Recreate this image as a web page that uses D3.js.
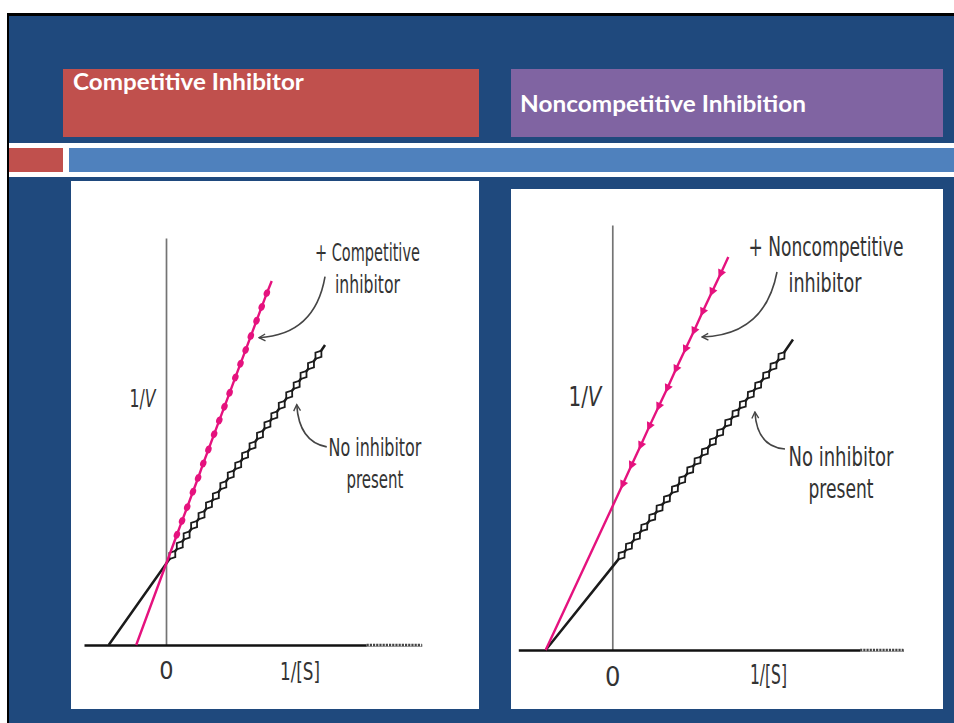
<!DOCTYPE html>
<html><head><meta charset="utf-8">
<script src="https://cdn.jsdelivr.net/npm/d3@7"></script>
<style>html,body{margin:0;padding:0;background:#fff;overflow:hidden}</style>
</head><body><svg id="c" width="954" height="723"></svg>
<script>
// ---------- DATA ----------
const titles = ["Competitive Inhibitor", "Noncompetitive Inhibition"];
const yLabel = ["1/", "V"];
const xLabel = "1/[S]";
const zeroTick = [0];

// Competitive panel: no inhibitor (open markers)
const compNoneX = [0.11,0.24,0.36,0.49,0.62,0.75,0.87,1.00,1.13,1.26,1.38,1.51,1.64,1.77,1.89,2.02,2.15,2.28,2.40,2.53,2.66];
const compNoneY = [1.11,1.23,1.35,1.48,1.60,1.73,1.84,1.97,2.10,2.22,2.34,2.46,2.59,2.72,2.83,2.96,3.09,3.21,3.33,3.45,3.58];
const compNoneExtX = [-1.0, 2.775];
const compNoneExtY = [0, 3.70];
// Competitive panel: + competitive inhibitor (filled beads)
const compInhX = [0.19,0.28,0.37,0.47,0.56,0.65,0.74,0.84,0.93,1.02,1.11,1.21,1.30,1.39,1.48,1.58,1.67,1.76];
const compInhY = [1.36,1.53,1.70,1.89,2.06,2.24,2.41,2.60,2.77,2.94,3.11,3.30,3.47,3.64,3.81,4.00,4.17,4.34];
const compInhExtX = [-0.52, 1.845];
const compInhExtY = [0, 4.49];

// Noncompetitive panel: no inhibitor (open markers)
const nonNoneX = [0.14,0.25,0.37,0.48,0.60,0.71,0.82,0.94,1.05,1.17,1.28,1.39,1.51,1.62,1.74,1.85,1.96,2.08,2.19,2.31,2.42,2.54];
const nonNoneY = [1.14,1.25,1.37,1.48,1.60,1.71,1.82,1.94,2.05,2.17,2.28,2.39,2.51,2.62,2.74,2.85,2.96,3.08,3.19,3.31,3.42,3.54];
const nonNoneExtX = [-1.0, 2.713];
const nonNoneExtY = [0, 3.74];
// Noncompetitive panel: + noncompetitive inhibitor (triangles)
const nonInhX = [0.16,0.29,0.43,0.56,0.70,0.83,0.96,1.10,1.23,1.36,1.50,1.63];
const nonInhY = [2.00,2.23,2.47,2.70,2.94,3.16,3.39,3.63,3.85,4.08,4.32,4.54];
const nonInhExtX = [-1.0, 1.742];
const nonInhExtY = [0, 4.735];

// Annotation texts
const compLabels = ["+ Competitive", "inhibitor", "No inhibitor", "present"];
const nonLabels = ["+ Noncompetitive", "inhibitor", "No inhibitor", "present"];

// ---------- STYLE ----------
const C = {bg:"#1F497D", red:"#C0504D", purple:"#8064A2", bar:"#4F81BD",
  mag:"#E5127E", blk:"#1b1b1b", axisY:"#747474", text:"#333333", arrow:"#454545"};
const narrow = "'Liberation Sans Narrow','DejaVu Sans Condensed','Arial Narrow','Roboto',sans-serif";

const svg = d3.select("#c");
const defs = svg.append("defs");
defs.append("marker").attr("id","ah").attr("viewBox","0 0 10 10")
  .attr("refX",8.5).attr("refY",5).attr("markerWidth",9).attr("markerHeight",9)
  .attr("markerUnits","userSpaceOnUse").attr("orient","auto")
  .append("path").attr("d","M1.5,1.2 L8.5,5 L1.5,8.8").attr("fill","none")
  .attr("stroke",C.arrow).attr("stroke-width",1.5);

// fit a text horizontally to a target width by scaling, keeping left edge at x
function fitText(sel, x, y, w){
  sel.attr("x",0).attr("y",0);
  const n = sel.node().getComputedTextLength();
  sel.attr("transform",`translate(${x},${y}) scale(${w/n},1)`);
  return sel;
}

// ---------- SLIDE BACKGROUND ----------
svg.append("rect").attr("width",954).attr("height",723).attr("fill","#fff");
svg.append("rect").attr("x",7).attr("y",13).attr("width",947).attr("height",710).attr("fill","#000");
svg.append("rect").attr("x",9).attr("y",16).attr("width",945).attr("height",707).attr("fill",C.bg);

// title boxes
svg.append("rect").attr("x",63).attr("y",69).attr("width",416).attr("height",68).attr("fill",C.red);
svg.append("rect").attr("x",511).attr("y",69).attr("width",432).attr("height",68).attr("fill",C.purple);
fitText(svg.append("text").text(titles[0])
  .attr("font-family","Lato, 'Open Sans', sans-serif").attr("font-weight","bold").attr("font-size",22)
  .attr("fill","#fff"), 73, 90, 231);
fitText(svg.append("text").text(titles[1])
  .attr("font-family","Lato, 'Open Sans', sans-serif").attr("font-weight","bold").attr("font-size",22)
  .attr("fill","#fff"), 520, 111.5, 286);

// divider stripes
svg.append("rect").attr("x",9).attr("y",143).attr("width",945).attr("height",34).attr("fill","#fff");
svg.append("rect").attr("x",9).attr("y",148).attr("width",54).attr("height",24).attr("fill",C.red);
svg.append("rect").attr("x",69).attr("y",148).attr("width",885).attr("height",24).attr("fill",C.bar);

// white chart panels
svg.append("rect").attr("x",71).attr("y",181).attr("width",408).attr("height",528).attr("fill","#fff");
svg.append("rect").attr("x",511).attr("y",189).attr("width",432).attr("height",520).attr("fill","#fff");

// ---------- CHART ----------
function drawChart(o){
  const g = svg.append("g");
  const x = o.x, y = o.y;
  // y axis
  g.append("g").attr("transform",`translate(${x(0)},0)`)
    .call(d3.axisLeft(y).tickValues([]).tickSize(0).tickSizeOuter(0))
    .select(".domain").attr("stroke",C.axisY).attr("stroke-width",1.7);
  // x axis
  const gx = g.append("g").attr("transform",`translate(0,${y(0)})`)
    .call(d3.axisBottom(x).tickValues(zeroTick).tickSize(0).tickSizeOuter(0).tickFormat(d3.format("d")));
  gx.select(".domain").attr("stroke","#111").attr("stroke-width",2.7);
  gx.selectAll("text").attr("y",o.zeroY).attr("dy",0).attr("font-size",o.fs)
    .attr("font-family",narrow).attr("fill",C.text)
    .attr("transform","scale(0.85,1)");
  gx.selectAll(".tick").each(function(d){
    d3.select(this).select("text").attr("transform",null).attr("textLength",null);
  });
  // lighter dotted tail of the x axis
  g.append("line").attr("x1",x(o.tail)).attr("x2",x.range()[1]).attr("y1",y(0)).attr("y2",y(0))
    .attr("stroke","#fff").attr("stroke-width",3.2);
  g.append("line").attr("x1",x(o.tail)).attr("x2",x.range()[1]).attr("y1",y(0)).attr("y2",y(0))
    .attr("stroke","#444").attr("stroke-width",2.4).attr("stroke-dasharray","2.2,1");

  const line = d3.line().x(d=>x(d[0])).y(d=>y(d[1]));
  o.series.forEach(s=>{
    const pts = [[s.ex[0],s.ey[0]]].concat(s.xs.map((v,i)=>[v,s.ys[i]])).concat([[s.ex[1],s.ey[1]]]);
    g.append("path").attr("d",line(pts)).attr("fill","none").attr("stroke",s.color).attr("stroke-width",s.lw);
    const ang = Math.atan2(y(s.ey[1])-y(s.ey[0]), x(s.ex[1])-x(s.ex[0]))*180/Math.PI;
    const mg = g.append("g");
    s.xs.forEach((v,i)=>{
      const t = `translate(${x(v)},${y(s.ys[i])}) rotate(${ang})`;
      if(s.marker==="diamond"){
        mg.append("path").attr("d","M-5,0L0,-3.7L5,0L0,3.7Z").attr("transform",t)
          .attr("fill","#fff").attr("stroke",s.color).attr("stroke-width",1.8);
      } else if(s.marker==="bead"){
        mg.append("ellipse").attr("rx",4.0).attr("ry",3.1).attr("transform",t).attr("fill",s.color);
      } else {
        mg.append("path").attr("d","M-5.5,0L3,-4.3L3,4.3Z").attr("transform",t).attr("fill",s.color);
      }
    });
  });
  // arrows (data-space anchor points)
  o.arrows.forEach(a=>{
    g.append("path").attr("d",`M${x(a[0])},${y(a[1])} Q${x(a[2])},${y(a[3])} ${x(a[4])},${y(a[5])}`)
      .attr("fill","none").attr("stroke",C.arrow).attr("stroke-width",1.6).attr("marker-end","url(#ah)");
  });
  // texts
  o.texts.forEach(t=>{
    fitText(g.append("text").text(t.s).attr("font-family",narrow)
      .attr("font-size",o.fs).attr("fill",C.text), t.x, t.y, t.w);
  });
  const yl = g.append("text").attr("font-family",narrow).attr("font-size",o.fs).attr("fill",C.text);
  yl.append("tspan").text(yLabel[0]);
  yl.append("tspan").text(yLabel[1]).attr("font-style","italic");
  fitText(yl, o.yl[0], o.yl[1], o.yl[2]);
  fitText(g.append("text").text(xLabel).attr("font-family",narrow)
    .attr("font-size",o.fs).attr("fill",C.text), o.xl[0], o.xl[1], o.xl[2]);
}

// Left: competitive
const xL = d3.scaleLinear().domain([-1.431, 4.462]).range([84, 421.7]);
const yL = d3.scaleLinear().domain([0, 5.02]).range([645, 238]);
drawChart({
  x:xL, y:yL, fs:25, zeroY:34, tail:3.5,
  series:[
    {xs:compNoneX, ys:compNoneY, ex:compNoneExtX, ey:compNoneExtY, color:C.blk, lw:2.5, marker:"diamond"},
    {xs:compInhX, ys:compInhY, ex:compInhExtX, ey:compInhExtY, color:C.mag, lw:2.4, marker:"bead"}
  ],
  arrows:[[2.775,4.543, 2.600,3.827, 1.623,3.790],[2.805,2.444, 2.321,2.506, 2.281,2.965]],
  texts:[
    {s:compLabels[0], x:315, y:261, w:105},
    {s:compLabels[1], x:335, y:293, w:65},
    {s:compLabels[2], x:328.5, y:455.5, w:93},
    {s:compLabels[3], x:346.5, y:487.5, w:57}
  ],
  yl:[129.5,407,26], xl:[280,680,40]
});

// Right: noncompetitive
const xR = d3.scaleLinear().domain([-1.411, 4.369]).range([518.3, 903.3]);
const yR = d3.scaleLinear().domain([0, 5.12]).range([650, 225]);
drawChart({
  x:xR, y:yR, fs:27, zeroY:35.5, tail:3.72,
  series:[
    {xs:nonNoneX, ys:nonNoneY, ex:nonNoneExtX, ey:nonNoneExtY, color:C.blk, lw:2.5, marker:"diamond"},
    {xs:nonInhX, ys:nonInhY, ex:nonInhExtX, ey:nonInhExtY, color:C.mag, lw:2.4, marker:"triangle"}
  ],
  arrows:[[2.473,4.554, 2.293,3.795, 1.347,3.771],[2.593,2.422, 2.173,2.446, 2.141,2.867]],
  texts:[
    {s:nonLabels[0], x:748.5, y:256, w:155},
    {s:nonLabels[1], x:788.5, y:292, w:73},
    {s:nonLabels[2], x:788.5, y:466, w:105},
    {s:nonLabels[3], x:808.5, y:498, w:65}
  ],
  yl:[568.5,406,33], xl:[750,684,37]
});
</script></body></html>
